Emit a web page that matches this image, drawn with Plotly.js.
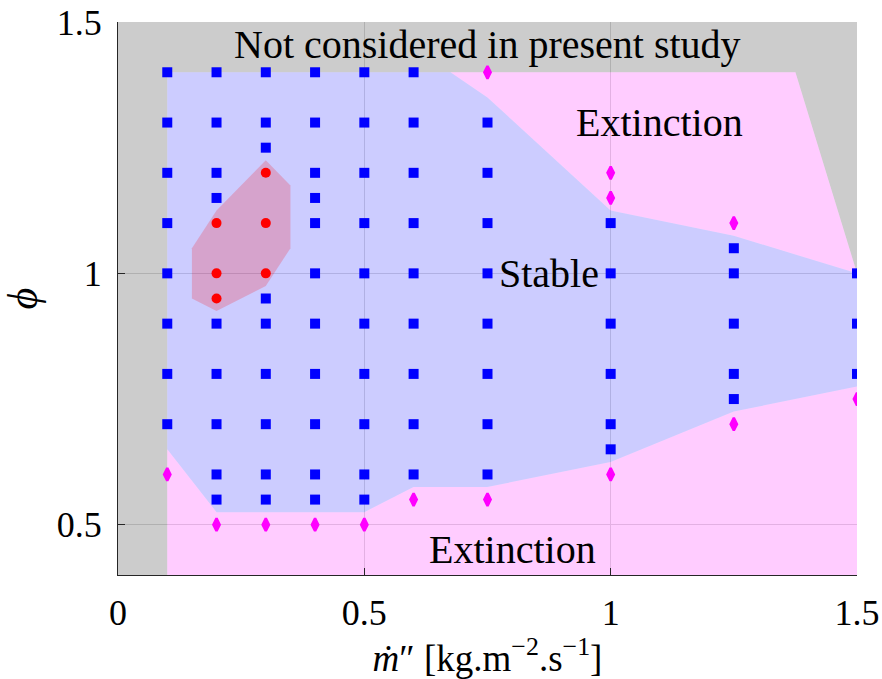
<!DOCTYPE html>
<html>
<head>
<meta charset="utf-8">
<script src="https://cdn.plot.ly/plotly-3.0.1.min.js"></script>
<style>html,body{margin:0;padding:0;background:#fff;}#chart{width:882px;height:679px;}</style>
</head>
<body>
<div id="chart"></div>
<script>
// Stable cases (blue squares)
const stableX = [0.1,0.1,0.1,0.1,0.1,0.1,0.1,0.1,
  0.2,0.2,0.2,0.2,0.2,0.2,0.2,0.2,0.2,
  0.3,0.3,0.3,0.3,0.3,0.3,0.3,0.3,0.3,
  0.4,0.4,0.4,0.4,0.4,0.4,0.4,0.4,0.4,0.4,0.4,
  0.5,0.5,0.5,0.5,0.5,0.5,0.5,0.5,0.5,0.5,
  0.6,0.6,0.6,0.6,0.6,0.6,0.6,0.6,0.6,
  0.75,0.75,0.75,0.75,0.75,0.75,0.75,0.75,
  1,1,1,1,1,1,
  1.25,1.25,1.25,1.25,1.25,
  1.5,1.5,1.5];
const stableY = [1.4,1.3,1.2,1.1,1.0,0.9,0.8,0.7,
  1.4,1.3,1.2,1.15,0.9,0.8,0.7,0.6,0.55,
  1.4,1.3,1.25,0.95,0.9,0.8,0.7,0.6,0.55,
  1.4,1.3,1.2,1.15,1.1,1.0,0.9,0.8,0.7,0.6,0.55,
  1.4,1.3,1.2,1.1,1.0,0.9,0.8,0.7,0.6,0.55,
  1.4,1.3,1.2,1.1,1.0,0.9,0.8,0.7,0.6,
  1.3,1.2,1.1,1.0,0.9,0.8,0.7,0.6,
  1.1,1.0,0.9,0.8,0.7,0.65,
  1.05,1.0,0.9,0.8,0.75,
  1.0,0.9,0.8];
// Extinction cases (magenta diamonds)
const extX = [0.1,0.2,0.3,0.4,0.5,0.6,0.75,0.75,1,1,1,1.25,1.25,1.5];
const extY = [0.6,0.5,0.5,0.5,0.5,0.55,0.55,1.4,1.2,1.15,0.6,1.1,0.7,0.75];
// Red circle cases
const redX = [0.2,0.2,0.2,0.3,0.3,0.3];
const redY = [1.1,1.0,0.95,1.2,1.1,1.0];

// Region polygons
const grayX = [0,0.1,0.1,1.375,1.5,1.5,0,0];
const grayY = [0.4,0.4,1.4,1.4,1.0,1.5,1.5,0.4];
const extLowX = [0.1,1.5,1.5,1.25,1.0,0.75,0.6,0.5,0.2,0.1,0.1];
const extLowY = [0.4,0.4,0.775,0.725,0.625,0.575,0.575,0.525,0.525,0.65,0.4];
const extHighX = [0.675,1.375,1.5,1.25,1.0,0.75,0.675];
const extHighY = [1.4,1.4,1.0,1.075,1.125,1.35,1.4];
const stableRegX = [0.1,0.2,0.5,0.6,0.75,1.0,1.25,1.5,1.5,1.25,1.0,0.75,0.675,0.1,0.1];
const stableRegY = [0.65,0.525,0.525,0.575,0.575,0.625,0.725,0.775,1.0,1.075,1.125,1.35,1.4,1.4,0.65];
const redRegX = [0.3,0.35,0.35,0.3,0.2,0.15,0.15,0.2,0.3];
const redRegY = [1.225,1.175,1.05,0.975,0.925,0.95,1.05,1.125,1.225];

const xTicks = [0,0.5,1,1.5];
const xTickText = ['0','0.5','1','1.5'];
const yTicks = [0.5,1,1.5];
const yTickText = ['0.5','1','1.5'];

const labels = [
  {text:'Not considered in present study', x:0.75, y:1.455},
  {text:'Extinction', x:1.1, y:1.3},
  {text:'Stable', x:0.875, y:1.0},
  {text:'Extinction', x:0.8, y:0.45}
];

const FONT = 'Liberation Serif, Times New Roman, serif';

function region(x, y, color){
  return {x:x, y:y, type:'scatter', mode:'lines', fill:'toself', fillcolor:color,
    line:{width:0, color:'rgba(0,0,0,0)'}, hoverinfo:'skip', showlegend:false};
}

const traces = [
  region(grayX, grayY, 'rgba(0,0,0,0.2)'),
  region(extLowX, extLowY, 'rgba(255,0,255,0.2)'),
  region(extHighX, extHighY, 'rgba(255,0,255,0.2)'),
  region(stableRegX, stableRegY, 'rgba(0,0,255,0.2)'),
  region(redRegX, redRegY, 'rgba(255,0,0,0.2)'),
  {x:stableX, y:stableY, type:'scatter', mode:'markers', showlegend:false,
    marker:{symbol:'square', size:10, color:'#0000ff'}},
  {x:extX, y:extY, type:'scatter', mode:'markers', showlegend:false,
    marker:{symbol:'diamond-tall', size:9, color:'#ff00ff', line:{width:2.5, color:'#ff00ff'}}},
  {x:redX, y:redY, type:'scatter', mode:'markers', showlegend:false,
    marker:{symbol:'circle', size:10, color:'#ff0000'}}
];

const layout = {
  width:882, height:679,
  margin:{l:118, r:25, t:22, b:104},
  paper_bgcolor:'#ffffff', plot_bgcolor:'#ffffff',
  font:{family:FONT, color:'#000', size:26},
  showlegend:false,
  xaxis:{range:[0,1.5], tickvals:xTicks, ticktext:xTickText, showgrid:true, gridcolor:'#dcdcdc', gridwidth:1,
    zeroline:false, showline:true, linecolor:'#262626', linewidth:1, ticks:'inside', ticklen:7, tickcolor:'#262626',
    tickfont:{family:FONT, size:36, color:'#000'}, ticklabelstandoff:6,
    title:{text:'<i>ṁ</i>″ [kg.m<sup>−2</sup>.s<sup>−1</sup>]', font:{family:FONT, size:37, color:'#000'}, standoff:0}},
  yaxis:{range:[0.4,1.5], tickvals:yTicks, ticktext:yTickText, showgrid:true, gridcolor:'#dcdcdc', gridwidth:1,
    zeroline:false, showline:true, linecolor:'#262626', linewidth:1, ticks:'inside', ticklen:7, tickcolor:'#262626',
    tickfont:{family:FONT, size:36, color:'#000'}, ticklabelstandoff:8,
    title:{text:'<i>ϕ</i>', font:{family:FONT, size:42, color:'#000'}, standoff:14}},
  annotations: labels.map(l => ({x:l.x, y:l.y, xref:'x', yref:'y', text:l.text, showarrow:false,
    font:{family:FONT, size:40, color:'#000'}, xanchor:'center', yanchor:'middle'}))
};

Plotly.newPlot('chart', traces, layout, {displayModeBar:false, staticPlot:true});
</script>
</body>
</html>
